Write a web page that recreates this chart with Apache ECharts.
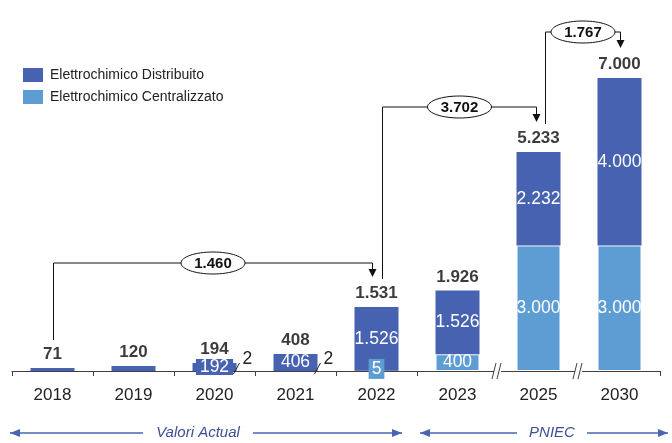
<!DOCTYPE html>
<html>
<head>
<meta charset="utf-8">
<script src="https://cdn.jsdelivr.net/npm/echarts@6/dist/echarts.min.js"></script>
<style>
html,body{margin:0;padding:0;background:#fff}
#main{width:672px;height:443px}
</style>
</head>
<body>
<div id="main"></div>
<script>
// dati (MW)
var anni = ['2018', '2019', '2020', '2021', '2022', '2023', '2025', '2030'];
var distribuito = [71, 120, 192, 406, 1526, 1526, 2232, 4000];
var centralizzato = [0, 0, 2, 2, 5, 400, 3000, 3000];
var totali = [71, 120, 194, 408, 1531, 1926, 5233, 7000];
// incrementi indicati con le frecce
var incrementi = [1460, 3702, 1767];
var incrDa = [0, 4, 6];
var incrA = [4, 6, 7];

var BLU = '#4662b0', AZZ = '#5e9cd4';
var FONT = '"Liberation Sans", Arial, sans-serif';

function fmt(v) {
    return String(v).replace(/\B(?=(\d{3})+(?!\d))/g, '.');
}

var datiDistr = distribuito.map(function (v, i) {
    var it = {value: v};
    if (i < 2) it.label = {show: false};
    if (i === 2) it.label = {backgroundColor: BLU, padding: [0, 4], lineHeight: 16};
    return it;
});
var datiCentr = centralizzato.map(function (v, i) {
    var it = {value: v};
    if (i < 2) it.label = {show: false};
    else if (i < 4) it.label = {position: 'right', distance: 6, offset: [0, -12], color: '#222'};
    else if (i === 4) it.label = {backgroundColor: AZZ, padding: [1, 3], offset: [0, -2]};
    if (i > 4) it.itemStyle = {borderColor: '#fff', borderWidth: 1};
    return it;
});

var chart = echarts.init(document.getElementById('main'));
var option = {
    animation: false,
    textStyle: {fontFamily: FONT},
    legend: {
        data: ['Elettrochimico Distribuito', 'Elettrochimico Centralizzato'],
        orient: 'vertical', left: 18, top: 63,
        icon: 'rect', itemWidth: 20, itemHeight: 14, itemGap: 8,
        textStyle: {fontSize: 14, color: '#222', padding: [0, 0, 0, 2]}
    },
    grid: {left: 12, right: 12, top: 78, bottom: 72},
    xAxis: {
        type: 'category', data: anni,
        axisLine: {lineStyle: {color: '#404040', width: 1}},
        axisTick: {show: true, length: 5, lineStyle: {color: '#404040'}},
        axisLabel: {fontSize: 17, color: '#222', margin: 16}
    },
    yAxis: {type: 'value', min: 0, max: 7000, show: false},
    series: [
        {
            name: 'Elettrochimico Centralizzato', type: 'bar', stack: 'tot',
            barWidth: 44, itemStyle: {color: AZZ}, data: datiCentr,
            label: {show: true, position: 'inside', color: '#fff', fontSize: 17.5,
                formatter: function (p) { return fmt(p.value); }}
        },
        {
            name: 'Elettrochimico Distribuito', type: 'bar', stack: 'tot',
            barWidth: 44, itemStyle: {color: BLU}, data: datiDistr,
            label: {show: true, position: 'inside', color: '#fff', fontSize: 17.5,
                formatter: function (p) { return fmt(p.value); }}
        },
        {
            name: 'totale', type: 'scatter', symbolSize: 0, silent: true, z: 5,
            data: totali,
            label: {show: true, position: 'top', distance: 5, fontSize: 17,
                fontWeight: 'bold', color: '#0a0a0a',
                formatter: function (p) { return fmt(p.value); }}
        }
    ]
};
chart.setOption(option);

// annotazioni: frecce, ellissi, salti d'asse
function px(i, v) { return chart.convertToPixel({gridIndex: 0}, [i, v]); }
function bordo(i) { return (px(i - 1, 0)[0] + px(i, 0)[0]) / 2; }

function testo(x, y, t, font, colore) {
    return {type: 'text', x: x, y: y, z: 20,
        style: {text: t, font: font, fill: colore, align: 'center', verticalAlign: 'middle',
            textAlign: 'center', textVerticalAlign: 'middle'}};
}

var g = [];
var livelli = [263, 107, 32];
var offDa = [1, 6, 7], offA = [-4, -2, 1];
incrementi.forEach(function (d, k) {
    var xs = px(incrDa[k], 0)[0] + offDa[k];
    var xe = px(incrA[k], 0)[0] + offA[k];
    var y0 = px(incrDa[k], totali[incrDa[k]])[1] - 28;
    var tip = px(incrA[k], totali[incrA[k]])[1] - 30;
    var yl = livelli[k];
    g.push({type: 'polyline', z: 10,
        shape: {points: [[xs, y0], [xs, yl], [xe, yl], [xe, tip - 7]]},
        style: {stroke: '#111', lineWidth: 1, fill: null}});
    g.push({type: 'polygon', z: 10,
        shape: {points: [[xe - 4, tip - 8], [xe + 4, tip - 8], [xe, tip]]},
        style: {fill: '#111'}});
    var cx = (xs + xe) / 2;
    g.push({type: 'ellipse', z: 11, shape: {cx: cx, cy: yl, rx: 32, ry: 11},
        style: {fill: '#fff', stroke: '#111', lineWidth: 1}});
    g.push(testo(cx, yl + 1, fmt(d), 'bold 15px ' + FONT, '#111'));
});

// trattini sulle barre piccole (valori 2)
[2, 3].forEach(function (i) {
    var xr = px(i, 0)[0] + 22;
    var yb = px(i, 0)[1];
    g.push({type: 'line', z: 10, shape: {x1: xr - 3, y1: yb + 3, x2: xr + 3, y2: yb - 8},
        style: {stroke: '#222', lineWidth: 1}});
});

// interruzioni dell'asse
var yAx = px(0, 0)[1];
[6, 7].forEach(function (i) {
    var x = bordo(i);
    g.push({type: 'rect', z: 10, shape: {x: x - 4, y: yAx - 3, width: 7, height: 10},
        style: {fill: '#fff'}});
    g.push({type: 'line', z: 11, shape: {x1: x - 6, y1: yAx + 8, x2: x - 2, y2: yAx - 8},
        style: {stroke: '#404040', lineWidth: 1}});
    g.push({type: 'line', z: 11, shape: {x1: x - 1, y1: yAx + 8, x2: x + 3, y2: yAx - 8},
        style: {stroke: '#404040', lineWidth: 1}});
});

// frecce in basso
var yb = 433, COL = '#4a64b2';
function freccia(x1, x2, dir) {
    g.push({type: 'line', z: 10, shape: {x1: x1, y1: yb, x2: x2, y2: yb},
        style: {stroke: COL, lineWidth: 1.5}});
    var t = dir < 0 ? x1 : x2;
    g.push({type: 'polygon', z: 10,
        shape: {points: [[t, yb], [t - dir * 10, yb - 4], [t - dir * 10, yb + 4]]},
        style: {fill: COL}});
}
var meta = bordo(5);
freccia(10, 143, -1);
freccia(253, meta - 15, 1);
g.push(testo(198, yb, 'Valori Actual', 'italic 15px ' + FONT, '#3d4f96'));
freccia(meta + 3, 517, -1);
freccia(587, 668, 1);
g.push(testo(552, yb, 'PNIEC', 'italic 15px ' + FONT, '#3d4f96'));

chart.setOption({graphic: g});
</script>
</body>
</html>
